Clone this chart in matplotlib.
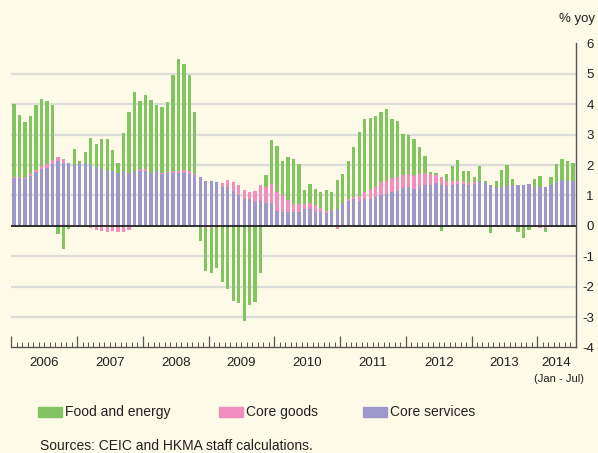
import matplotlib
matplotlib.use("Agg")
import matplotlib.pyplot as plt
import matplotlib.transforms as mtransforms
from matplotlib.patches import Rectangle
import numpy as np

plt.rcParams["font.family"] = ["Liberation Sans", "DejaVu Sans"]
plt.rcParams["axes.unicode_minus"] = False

# ── Data (monthly, Jan 2006 - Jul 2014, % yoy contribution) ─────────────────

years = ["2006", "2007", "2008", "2009", "2010", "2011", "2012", "2013", "2014"]
series_names = ["Food and energy", "Core goods", "Core services"]

services = [
    1.59, 1.59, 1.55, 1.64, 1.77, 1.88, 1.92, 2.03, 2.12, 2.08, 2.06, 2.00,
    2.07, 2.06, 2.00, 1.93, 1.86, 1.81, 1.81, 1.75, 1.79, 1.75, 1.79, 1.82,
    1.82, 1.73, 1.79, 1.71, 1.73, 1.73, 1.75, 1.75, 1.71, 1.66, 1.61, 1.49,
    1.46, 1.43, 1.27, 1.27, 1.15, 1.00, 0.88, 0.87, 0.80, 0.82, 0.75, 0.75,
    0.49, 0.47, 0.44, 0.47, 0.47, 0.54, 0.56, 0.47, 0.45, 0.42, 0.52, 0.54,
    0.75, 0.83, 0.88, 0.83, 0.88, 0.89, 0.94, 1.02, 1.05, 1.13, 1.16, 1.24,
    1.27, 1.22, 1.27, 1.35, 1.35, 1.40, 1.35, 1.32, 1.35, 1.38, 1.38, 1.35,
    1.38, 1.46, 1.40, 1.33, 1.28, 1.27, 1.32, 1.35, 1.35, 1.33, 1.37, 1.29,
    1.27, 1.29, 1.34, 1.43, 1.51, 1.48, 1.46,
]
goods = [
    0.02, 0.02, 0.04, 0.09, 0.07, 0.10, 0.10, 0.14, 0.14, 0.12, 0.00, -0.03,
    -0.04, -0.04, -0.08, -0.13, -0.16, -0.19, -0.17, -0.19, -0.19, -0.13, 0.00, 0.04,
    0.04, 0.02, 0.02, 0.03, 0.03, 0.06, 0.07, 0.09, 0.10, 0.04, 0.00, -0.06,
    -0.07, -0.02, 0.14, 0.24, 0.30, 0.33, 0.30, 0.25, 0.35, 0.52, 0.54, 0.64,
    0.63, 0.53, 0.42, 0.26, 0.25, 0.19, 0.19, 0.23, 0.15, 0.06, -0.05, -0.09,
    -0.05, 0.05, 0.06, 0.16, 0.22, 0.32, 0.35, 0.43, 0.42, 0.44, 0.46, 0.44,
    0.44, 0.46, 0.43, 0.38, 0.35, 0.27, 0.27, 0.14, 0.13, 0.11, 0.08, 0.05,
    0.06, 0.03, 0.02, 0.00, -0.04, -0.04, -0.04, -0.02, 0.00, 0.00, 0.00, -0.05,
    -0.06, -0.06, -0.05, -0.04, -0.03, -0.03, -0.04,
]
food = [
    2.40, 2.03, 1.83, 1.89, 2.14, 2.21, 2.09, 1.80, -0.26, -0.77, -0.11, 0.54,
    0.07, 0.37, 0.88, 0.77, 1.00, 1.06, 0.69, 0.33, 1.25, 2.00, 2.61, 2.26,
    2.44, 2.39, 2.16, 2.16, 2.33, 3.16, 3.68, 3.49, 3.16, 2.05, -0.49, -1.44,
    -1.47, -1.38, -1.84, -2.08, -2.46, -2.55, -3.14, -2.60, -2.52, -1.56, 0.39, 1.44,
    1.50, 1.14, 1.41, 1.46, 1.30, 0.44, 0.63, 0.51, 0.53, 0.69, 0.59, 0.97,
    0.97, 1.25, 1.67, 2.09, 2.42, 2.33, 2.34, 2.30, 2.38, 1.96, 1.84, 1.35,
    1.28, 1.18, 0.91, 0.57, 0.08, 0.06, -0.18, 0.25, 0.49, 0.68, 0.35, 0.39,
    0.18, 0.48, 0.06, -0.22, 0.19, 0.57, 0.68, 0.20, -0.20, -0.41, -0.13, 0.25,
    0.37, -0.13, 0.26, 0.61, 0.68, 0.66, 0.60,
]

# ── Style ────────────────────────────────────────────────────────────────────

BG = "#FEFAE8"
TEXT = "#231F20"
colors = {"Food and energy": "#82C461", "Core goods": "#F28DBF", "Core services": "#9D98CC"}

fig = plt.figure(figsize=(5.98, 4.53), dpi=100, facecolor=BG)
ax = fig.add_axes([0.018, 0.233, 0.945, 0.671], facecolor=BG)

x = np.arange(len(services))
pos_base = np.zeros(len(x))
neg_base = np.zeros(len(x))
stack = [("Core services", services), ("Core goods", goods), ("Food and energy", food)]
for name, vals in stack:
    v = np.array(vals)
    bottom = np.where(v >= 0, pos_base, neg_base)
    ax.bar(x, v, bottom=bottom, width=0.6, color=colors[name], zorder=3, linewidth=0)
    pos_base += np.clip(v, 0, None)
    neg_base += np.clip(v, None, 0)

# gridlines and zero line
for g in [-3, -2, -1, 1, 2, 3, 4, 5]:
    ax.axhline(g, color="#DCDCD8", lw=1.6, zorder=1)
ax.axhline(0, color="#222222", lw=1.3, zorder=4)

ax.set_xlim(-0.6, len(x) - 0.45)
ax.set_ylim(-4, 6)

# spines
for s in ["top", "left"]:
    ax.spines[s].set_visible(False)
for s in ["right", "bottom"]:
    ax.spines[s].set_color("#555555")
    ax.spines[s].set_linewidth(1.0)

# x ticks: years major, months minor
ax.set_xticks([12 * k - 0.5 for k in range(len(years))])
ax.set_xticks(np.arange(len(x)) - 0.5, minor=True)
ax.tick_params(axis="x", which="major", direction="in", length=8, width=0.9,
               color="#555555", labelbottom=False)
ax.tick_params(axis="x", which="minor", direction="in", length=3.5, width=0.7,
               color="#555555")

trans = mtransforms.blended_transform_factory(ax.transData, ax.transAxes)
for k, yr in enumerate(years):
    start = 12 * k - 0.5
    end = min(12 * (k + 1), len(x)) - 0.5
    ax.text((start + end) / 2, -0.05, yr, transform=trans, ha="center", va="center",
            fontsize=9.5, color=TEXT)
ax.text(len(x) - 3.5, -0.105, "(Jan - Jul)", transform=trans, ha="center", va="center",
        fontsize=8, color=TEXT, family=["Liberation Sans Narrow", "Liberation Sans"])

# y axis on the right
ax.yaxis.tick_right()
ax.set_yticks(range(-4, 7))
ax.set_yticklabels([str(v) for v in range(-4, 7)])
ax.tick_params(axis="y", length=0, pad=13, labelsize=9.5, labelcolor=TEXT)
for lab in ax.get_yticklabels():
    lab.set_ha("right")

fig.text(0.965, 0.958, "% yoy", ha="center", va="center", fontsize=9.5, color=TEXT)

# legend
W, H = 598, 453
legend_x = [38, 219, 363]
for name, lx in zip(series_names, legend_x):
    fig.patches.append(Rectangle((lx / W, 1 - 417 / H), 24 / W, 10 / H,
                                 transform=fig.transFigure, color=colors[name]))
    fig.text((lx + 27) / W, 1 - 412 / H, name, ha="left", va="center",
             fontsize=10, color=TEXT)

fig.text(40 / W, 1 - 446 / H, "Sources: CEIC and HKMA staff calculations.",
         ha="left", va="center", fontsize=10, color=TEXT)

fig.savefig("out.png", dpi=100, facecolor=BG)
